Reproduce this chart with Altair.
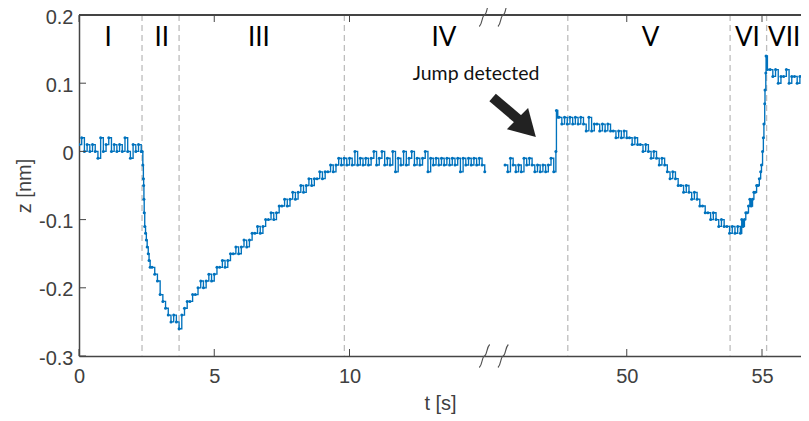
import altair as alt
import pandas as pd

# ---------------- values ----------------
# Phase I (t = 0.0 .. 2.3 s, sampled every 0.1 s)
p1_t0, p1_dt = 0.0, 0.1
p1_z = [0.01, 0.02, 0.0, 0.01, 0.0, 0.01, 0.0, -0.01, 0.02, 0.0, 0.01, 0.02,
        0.0, 0.01, 0.0, 0.01, 0.0, 0.02, 0.0, -0.01, 0.01, 0.0, 0.01, 0.0]

# Phase II fast drop (irregular times)
p2_t = [2.33, 2.36, 2.38, 2.39, 2.40, 2.41, 2.43, 2.46, 2.49, 2.52, 2.56, 2.59, 2.63]
p2_z = [0.0, -0.02, -0.04, -0.05, -0.07, -0.09, -0.11, -0.12, -0.13, -0.14, -0.15, -0.16, -0.17]

# Phase II/III staircase (from 2.7 s, every 0.1 s)
p3_t0, p3_dt = 2.7, 0.1
p3_z = [-0.17, -0.18, -0.19, -0.21, -0.22, -0.23, -0.24, -0.25, -0.24, -0.25, -0.26,
        -0.24, -0.23, -0.22, -0.22, -0.21, -0.21, -0.20, -0.19, -0.20, -0.19,
        -0.18, -0.19, -0.18, -0.17, -0.17, -0.16, -0.17, -0.16, -0.15, -0.15,
        -0.14, -0.15, -0.14, -0.13, -0.14, -0.13, -0.12, -0.12, -0.11, -0.12,
        -0.11, -0.10, -0.10, -0.09, -0.10, -0.09, -0.08, -0.08, -0.07, -0.08,
        -0.07, -0.06, -0.07, -0.06, -0.05, -0.06, -0.05, -0.04, -0.05, -0.04,
        -0.04, -0.03, -0.04, -0.03, -0.03, -0.02, -0.03, -0.02, -0.01, -0.02, -0.01]

# Phase IV, left of the axis break (from 9.9 s, every 0.1 s)
p4a_t0, p4a_dt = 9.9, 0.1
p4a_z = [-0.02, -0.01, -0.02, 0.0, -0.02, -0.01, -0.02, -0.01, -0.02, -0.01,
         0.0, -0.02, -0.01, 0.0, -0.02, -0.01, -0.02, 0.0, -0.03, -0.01,
         -0.02, 0.0, -0.02, -0.01, 0.0, -0.02, -0.01, -0.02, -0.01, 0.0,
         -0.03, -0.01, -0.02, -0.01, -0.02, -0.01, -0.02, -0.01, -0.02, -0.01,
         -0.02, -0.01, -0.03, -0.01, -0.02, -0.01, -0.02, -0.01, -0.02, -0.01,
         -0.02, -0.03]

# Phase IV, right of the axis break (from 45.5 s, every 0.1 s)
p4b_t0, p4b_dt = 45.5, 0.1
p4b_z = [-0.02, -0.03, -0.01, -0.02, -0.03, -0.02, -0.03, -0.01, -0.02, -0.01,
         -0.02, -0.03, -0.02, -0.03, -0.02, -0.03, -0.02, -0.01, -0.03]

# Detected jump
jump_t = [47.38, 47.40, 47.45]
jump_z = [0.0, 0.06, 0.05]

# Phase V (from 47.5 s, every 0.1 s)
p5_t0, p5_dt = 47.5, 0.1
p5_z = [0.05, 0.04, 0.05, 0.04, 0.05, 0.04, 0.05, 0.04, 0.05, 0.04,
        0.03, 0.05, 0.03, 0.04, 0.04, 0.03, 0.04, 0.03, 0.04, 0.03,
        0.03, 0.02, 0.03, 0.02, 0.03, 0.02, 0.02, 0.01, 0.02, 0.01,
        0.01, 0.0, 0.01, 0.0, -0.01, 0.0, -0.01, -0.02, -0.01, -0.02,
        -0.03, -0.04, -0.03, -0.04, -0.05, -0.05, -0.06, -0.05, -0.06, -0.07,
        -0.06, -0.07, -0.08, -0.08, -0.09, -0.09, -0.10, -0.09, -0.10, -0.11,
        -0.10, -0.11, -0.11, -0.12, -0.11, -0.12, -0.11, -0.12]

# Phase VI (from 54.25 s, every 0.05 s) and the fast rise
p6_t0, p6_dt = 54.25, 0.05
p6_z = [-0.10, -0.11, -0.10, -0.09, -0.09, -0.08, -0.07, -0.08, -0.07, -0.06,
        -0.06, -0.05, -0.05, -0.04, -0.03]
rise_t = [54.98, 55.02, 55.05, 55.07, 55.10, 55.11, 55.14, 55.15, 55.20]
rise_z = [-0.02, 0.0, 0.02, 0.04, 0.07, 0.09, 0.115, 0.14, 0.12]

# Phase VII (from 55.3 s, every 0.1 s)
p7_t0, p7_dt = 55.3, 0.1
p7_z = [0.12, 0.11, 0.12, 0.10, 0.11, 0.11, 0.12, 0.10, 0.11, 0.11,
        0.10, 0.11, 0.10, 0.11, 0.11, 0.10]

# Phase boundaries and labels
boundary_t = [2.33, 3.70, 9.81, 47.82, 53.82, 55.17]
phase_names = ["I", "II", "III", "IV", "V", "VI", "VII"]
phase_name_t = [1.08, 3.06, 6.65, 13.49, 50.88, 54.46, 55.82]
phase_name_z = 0.155

# Axis ticks
xtick_t = [0, 5, 10, 50, 55]
ytick_z = [-0.3, -0.2, -0.1, 0, 0.1, 0.2]

# Axis break (seconds 15.08 .. 44.83 are cut out)
BREAK_AT = 30.0
SHIFT = 29.75
break_mark_t = [14.99, 45.43]
break_mark_z = [0.2, -0.3]

# Annotation
jump_text = "Jump detected"
jump_text_t, jump_text_z = 14.68, 0.104
arrow_tail_t, arrow_tail_z = 15.29, 0.079
arrow_end_t, arrow_end_z = 46.02, 0.046
arrow_head_t, arrow_head_z = 46.30, 0.0346

# ---------------- build tables ----------------
def disp(t):
    return t - SHIFT if t > BREAK_AT else t


def grid(t0, dt, n):
    return [round(t0 + i * dt, 3) for i in range(n)]


left_t = grid(p1_t0, p1_dt, len(p1_z)) + p2_t + grid(p3_t0, p3_dt, len(p3_z)) + grid(p4a_t0, p4a_dt, len(p4a_z))
left_z = p1_z + p2_z + p3_z + p4a_z
right_t = (grid(p4b_t0, p4b_dt, len(p4b_z)) + jump_t + grid(p5_t0, p5_dt, len(p5_z))
           + grid(p6_t0, p6_dt, len(p6_z)) + rise_t + grid(p7_t0, p7_dt, len(p7_z)))
right_z = p4b_z + jump_z + p5_z + p6_z + rise_z + p7_z

sig = pd.DataFrame({
    "t": left_t + right_t,
    "z": left_z + right_z,
    "part": ["left"] * len(left_t) + ["right"] * len(right_t),
})
sig["xd"] = sig["t"].map(disp)

bounds = pd.DataFrame({"xd": [disp(t) for t in boundary_t]})
names = pd.DataFrame({"name": phase_names, "xd": [disp(t) for t in phase_name_t],
                      "z": [phase_name_z] * len(phase_names)})
xticks = pd.DataFrame({"xd": [disp(t) for t in xtick_t]})
yticks = pd.DataFrame({"z": ytick_z})
breaks = pd.DataFrame([{"xd": disp(t), "z": z} for t in break_mark_t for z in break_mark_z])
jump_lbl = pd.DataFrame({"text": [jump_text], "xd": [disp(jump_text_t)], "z": [jump_text_z]})
arrow = pd.DataFrame({"xd": [disp(arrow_tail_t)], "z": [arrow_tail_z],
                      "xd2": [disp(arrow_end_t)], "z2": [arrow_end_z]})
head = pd.DataFrame({"xd": [disp(arrow_head_t)], "z": [arrow_head_z]})

# ---------------- chart ----------------
W, H = 722, 341
PX_PER_S = 27.05
BLUE = "#0072BD"
AX = "#454545"
TICK_LEN = 7

xs = alt.Scale(domain=[0, W / PX_PER_S], nice=False, zero=False)
ys = alt.Scale(domain=[-0.3, 0.2], nice=False, zero=False)

x_axis = alt.Axis(
    values=[disp(t) for t in xtick_t],
    labelExpr=f"datum.value > 15 ? toString(round(datum.value + {SHIFT})) : toString(datum.value)",
    title="t [s]", domain=True, domainColor=AX, domainWidth=1.5, ticks=False, grid=False,
    labelPadding=10, labelFlush=False, labelOverlap=False,
    titlePadding=7,
)
y_axis = alt.Axis(
    values=ytick_z, labelExpr="toString(datum.value)",
    title="z [nm]", domain=True, domainColor=AX, domainWidth=1.5, ticks=False, grid=False,
    labelPadding=6, labelFlush=False, labelOverlap=False, labelOffset=2,
    titlePadding=4,
)

X = alt.X("xd:Q", scale=xs, axis=x_axis)
Y = alt.Y("z:Q", scale=ys, axis=y_axis)

dashes = alt.Chart(bounds).mark_rule(color="#bdbdbd", strokeDash=[6, 4], strokeWidth=1.3).encode(x=X)

line = alt.Chart(sig).mark_line(color=BLUE, strokeWidth=1.35, interpolate="step-after", clip=True).encode(
    x=X, y=Y, detail="part:N", order="t:Q")
dots = alt.Chart(sig).mark_circle(color=BLUE, size=9, opacity=1, clip=True).encode(x=X, y=Y)

top_line = alt.Chart(yticks).mark_rule(color=AX, strokeWidth=1.5).encode(
    x=alt.value(0), x2=alt.value(W), y=alt.value(0))
lt = alt.Chart(yticks).mark_rule(color=AX, strokeWidth=1).encode(
    y=Y, x=alt.value(0), x2=alt.value(TICK_LEN))
bt = alt.Chart(xticks).mark_rule(color=AX, strokeWidth=1).encode(
    x=X, y=alt.value(H), y2=alt.value(H - TICK_LEN))
tt = alt.Chart(xticks).mark_rule(color=AX, strokeWidth=1).encode(
    x=X, y=alt.value(0), y2=alt.value(TICK_LEN))

slash_path = "M-0.45,1 C-0.15,0.7 -0.25,0.1 0,0 C0.25,-0.1 0.15,-0.7 0.45,-1"
brk = alt.Chart(breaks).mark_point(shape=slash_path, size=529, filled=False, color="#505050",
                                   strokeWidth=1.1, opacity=1).encode(x=X, y=Y)

roman = alt.Chart(names).mark_text(font="Lato", fontSize=26, color="#000000",
                                   align="center", baseline="alphabetic").encode(x=X, y=Y, text="name:N")
jtxt = alt.Chart(jump_lbl).mark_text(font="Lato", fontSize=19.5, color="#111111",
                                     align="center", baseline="alphabetic").encode(x=X, y=Y, text="text:N")
shaft = alt.Chart(arrow).mark_rule(color="#222222", strokeWidth=10, strokeCap="butt").encode(
    x=X, y=Y, x2="xd2:Q", y2="z2:Q")
tip = alt.Chart(head).mark_point(shape="triangle-up", size=900, angle=135, filled=True,
                                 color="#222222", opacity=1).encode(x=X, y=Y)

chart = alt.layer(dashes, line, dots, top_line, lt, bt, tt, brk, roman, jtxt, shaft, tip).properties(
    width=W, height=H,
    autosize=alt.AutoSizeParams(type="none"),
    padding={"left": 71, "top": 7, "right": 0, "bottom": 60},
).configure_view(stroke="transparent").configure_axis(
    labelFont="Liberation Sans", labelFontSize=20, labelColor="#404040",
    titleFont="Liberation Sans", titleFontSize=20, titleFontWeight="normal", titleColor="#404040",
)

chart.save("out.html", embed_options={"renderer": "svg", "actions": False})
